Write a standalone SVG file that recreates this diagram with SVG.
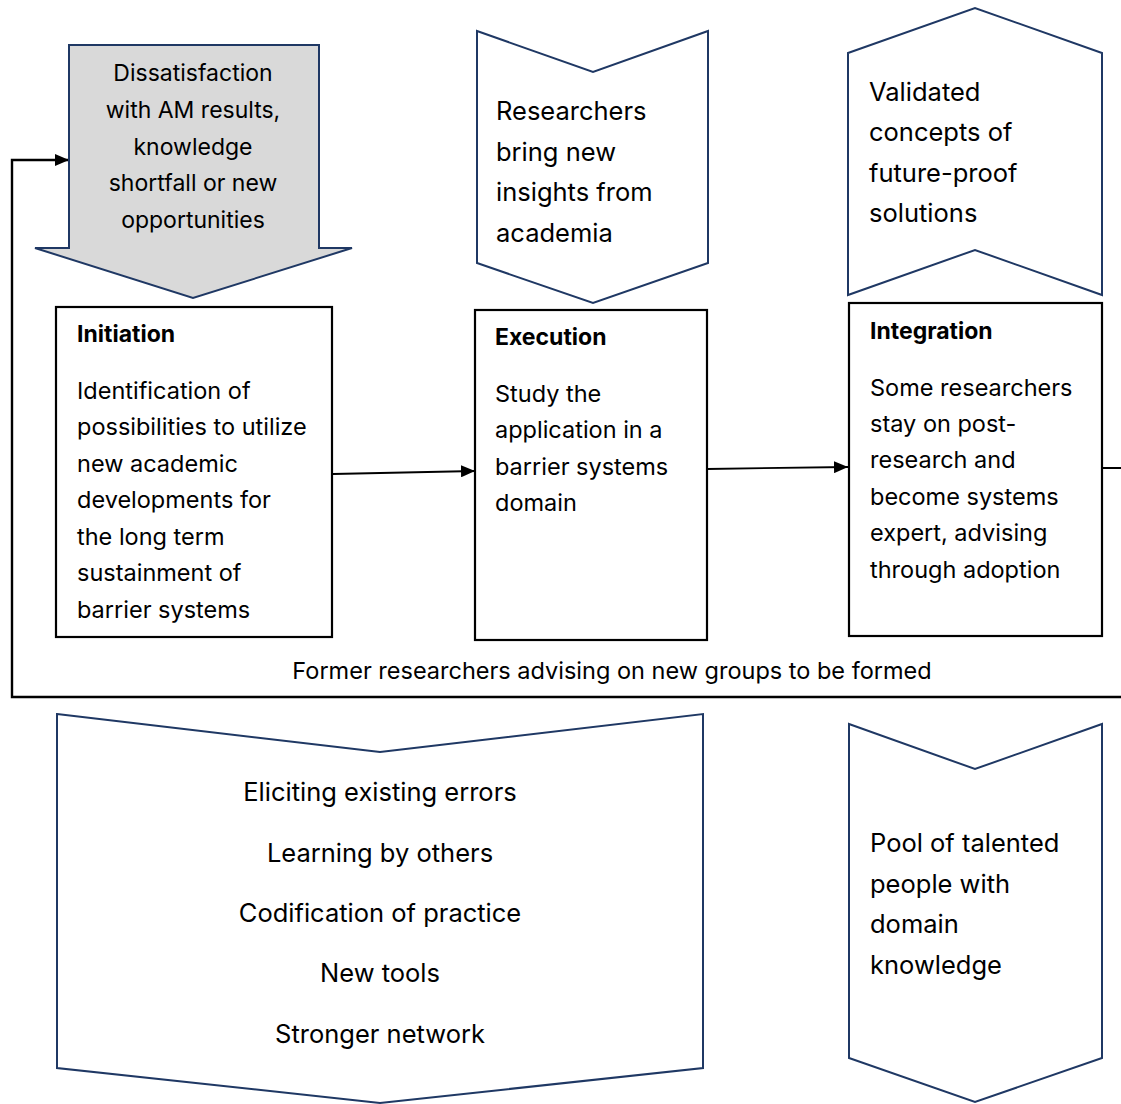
<svg xmlns="http://www.w3.org/2000/svg" width="1121" height="1104" viewBox="0 0 1121 1104">
<defs>
<style>
.shape{fill:#ffffff;stroke:#1f3864;stroke-width:2;}
.gray{fill:#d9d9d9;stroke:#1f3864;stroke-width:2;}
.box{fill:#ffffff;stroke:#000000;stroke-width:2.2;}
.conn{fill:none;stroke:#000000;stroke-width:2;}
text{font-family:Inter,"Open Sans","Noto Sans",sans-serif;fill:#000000;}
.t21{font-size:23.5px;}
.td{font-size:23px;}
.t24{font-size:25.5px;}
.b{font-weight:bold;font-size:23px;}
.c{text-anchor:middle;}
</style>
<marker id="ah" viewBox="0 0 14 12" refX="14" refY="6" markerWidth="14" markerHeight="12" markerUnits="userSpaceOnUse" orient="auto"><path d="M0,0 L14,6 L0,12 z" fill="#000"/></marker>
</defs>
<rect width="1121" height="1104" fill="#ffffff"/>

<g id="connectors">
<path class="conn" d="M333,474 L475,471" marker-end="url(#ah)" style="stroke-width:1.8"/>
<path class="conn" d="M707,469 L848,467" marker-end="url(#ah)" style="stroke-width:1.8"/>
<path class="conn" d="M1102,468 L1121,468"/>
<path class="conn" d="M1121,697 L12,697 L12,160 L69,160" marker-end="url(#ah)" style="stroke-width:2.4"/>
<text class="t21 c" x="612" y="679">Former researchers advising on new groups to be formed</text>
</g>

<g id="trigger">
<path class="gray" d="M69,45 L319,45 L319,248 L352,248 L193,298 L35,248 L69,248 Z"/>
<text class="td c" x="193" y="81">Dissatisfaction</text>
<text class="td c" x="193" y="118">with AM results,</text>
<text class="td c" x="193" y="155">knowledge</text>
<text class="td c" x="193" y="191">shortfall or new</text>
<text class="td c" x="193" y="228">opportunities</text>
</g>

<g id="initiation">
<rect class="box" x="56" y="307" width="276" height="330"/>
<text class="b" x="77" y="342">Initiation</text>
<text class="t21" x="77" y="399">Identification of</text>
<text class="t21" x="77" y="435">possibilities to utilize</text>
<text class="t21" x="77" y="472">new academic</text>
<text class="t21" x="77" y="508">developments for</text>
<text class="t21" x="77" y="545">the long term</text>
<text class="t21" x="77" y="581">sustainment of</text>
<text class="t21" x="77" y="618">barrier systems</text>
</g>

<g id="insights">
<path class="shape" d="M477,31 L593,72 L708,31 L708,263 L593,303 L477,263 Z"/>
<text class="t24" x="496" y="120">Researchers</text>
<text class="t24" x="496" y="161">bring new</text>
<text class="t24" x="496" y="201">insights from</text>
<text class="t24" x="496" y="242">academia</text>
</g>

<g id="execution">
<rect class="box" x="475" y="310" width="232" height="330"/>
<text class="b" x="495" y="345">Execution</text>
<text class="t21" x="495" y="402">Study the</text>
<text class="t21" x="495" y="438">application in a</text>
<text class="t21" x="495" y="475">barrier systems</text>
<text class="t21" x="495" y="511">domain</text>
</g>

<g id="validated">
<path class="shape" d="M848,53 L975,8 L1102,53 L1102,295 L975,250 L848,295 Z"/>
<text class="t24" x="869" y="101">Validated</text>
<text class="t24" x="869" y="141">concepts of</text>
<text class="t24" x="869" y="182">future-proof</text>
<text class="t24" x="869" y="222">solutions</text>
</g>

<g id="integration">
<rect class="box" x="849" y="303" width="253" height="333"/>
<text class="b" x="870" y="339">Integration</text>
<text class="t21" x="870" y="396">Some researchers</text>
<text class="t21" x="870" y="432">stay on post-</text>
<text class="t21" x="870" y="468">research and</text>
<text class="t21" x="870" y="505">become systems</text>
<text class="t21" x="870" y="541">expert, advising</text>
<text class="t21" x="870" y="578">through adoption</text>
</g>

<g id="outcomes">
<path class="shape" d="M57,714 L380,752 L703,714 L703,1068 L380,1103 L57,1068 Z"/>
<text class="t24 c" x="380" y="801">Eliciting existing errors</text>
<text class="t24 c" x="380" y="862">Learning by others</text>
<text class="t24 c" x="380" y="922">Codification of practice</text>
<text class="t24 c" x="380" y="982">New tools</text>
<text class="t24 c" x="380" y="1043">Stronger network</text>
</g>

<g id="pool">
<path class="shape" d="M849,724 L975,769 L1102,724 L1102,1058 L975,1102 L849,1058 Z"/>
<text class="t24" x="870" y="852">Pool of talented</text>
<text class="t24" x="870" y="893">people with</text>
<text class="t24" x="870" y="933">domain</text>
<text class="t24" x="870" y="974">knowledge</text>
</g>
</svg>
